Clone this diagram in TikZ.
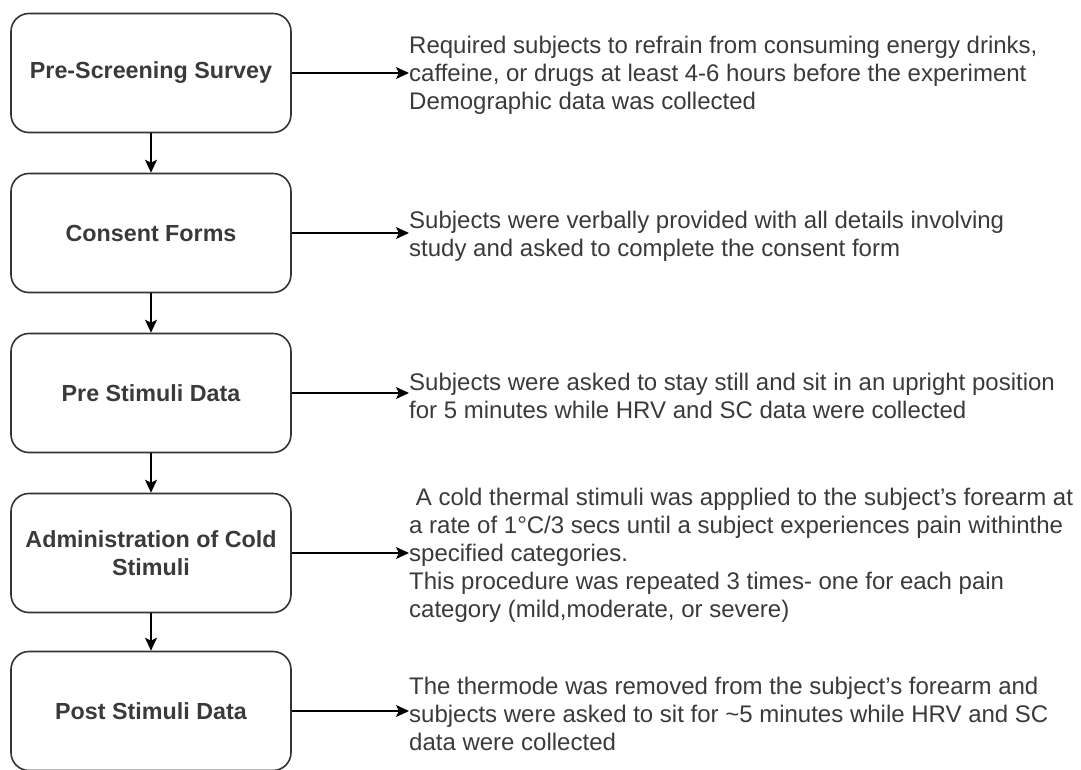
\documentclass[tikz,border=0pt]{standalone}
\usepackage{fontspec}
\setmainfont{Liberation Sans}
\usetikzlibrary{arrows.meta}
\definecolor{boxline}{HTML}{333333}
\definecolor{txtgray}{HTML}{3A3A3A}

\begin{document}
\begin{tikzpicture}[x=1pt, y=-1pt,
        stage/.style={draw=boxline, line width=1.6pt, rounded corners=18pt, minimum width=280pt, minimum height=119pt, align=center, text=txtgray, font=\bfseries\fontsize{23.3}{28.5}\selectfont},
        note/.style={anchor=west, inner sep=0pt, align=left, text=txtgray, font=\fontsize{24}{28}\selectfont},
        link/.style={-{Stealth[length=13pt, width=12pt, inset=3pt]}, line width=1.5pt}]
        \useasboundingbox (0,0) rectangle (1081,770);

        \node[stage] (survey) at (151,73) {Pre-Screening Survey};
        \node[stage] (consent) at (151,233) {Consent Forms};
        \node[stage] (pre) at (151,393) {Pre Stimuli Data};
        \node[stage] (cold) at (151,553) {Administration of Cold\\Stimuli};
        \node[stage] (post) at (151,711) {Post Stimuli Data};

        \node[note] (survey-note) at (409,75) {Required subjects to refrain from consuming energy drinks,\\caffeine, or drugs at least 4-6 hours before the experiment\\Demographic data was collected};
        \node[note] (consent-note) at (409,236) {Subjects were verbally provided with all details involving\\study and asked to complete the consent form};
        \node[note] (pre-note) at (409,396) {Subjects were asked to stay still and sit in an upright position\\for 5 minutes while HRV and SC data were collected};
        \node[note] (cold-note) at (409,555) {\ A cold thermal stimuli was appplied to the subject's forearm at\\a rate of 1°C/3 secs until a subject experiences pain withinthe\\specified categories.\\This procedure was repeated 3 times- one for each pain\\category (mild,moderate, or severe)};
        \node[note] (post-note) at (409,714) {The thermode was removed from the subject's forearm and\\subjects were asked to sit for \textasciitilde5 minutes while HRV and SC\\data were collected};

        \draw[link] (survey) -- (consent);
        \draw[link] (consent) -- (pre);
        \draw[link] (pre) -- (cold);
        \draw[link] (cold) -- (post);

        \draw[link] (survey.east) -- (survey.east -| survey-note.west);
        \draw[link] (consent.east) -- (consent.east -| consent-note.west);
        \draw[link] (pre.east) -- (pre.east -| pre-note.west);
        \draw[link] (cold.east) -- (cold.east -| cold-note.west);
        \draw[link] (post.east) -- (post.east -| post-note.west);
    \end{tikzpicture}
\end{document}
